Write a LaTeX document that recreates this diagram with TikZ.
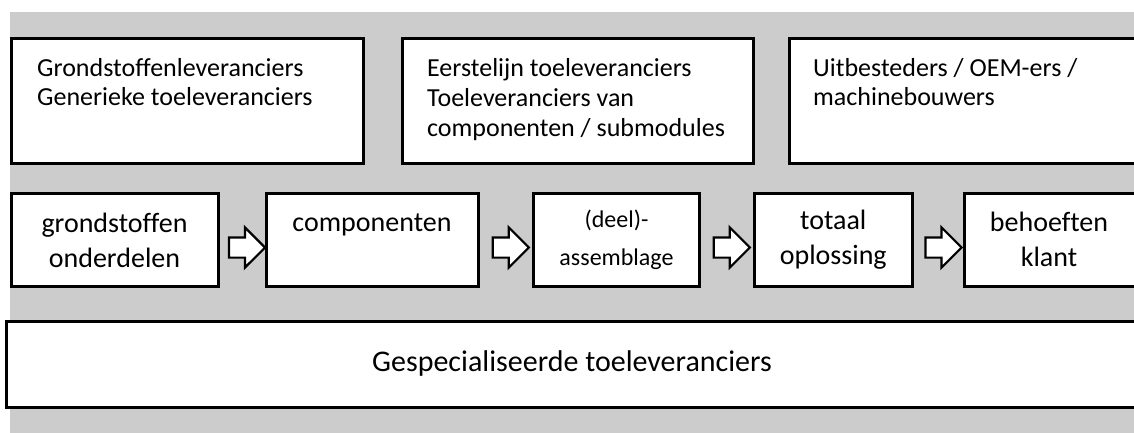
\documentclass[tikz,border=0pt]{standalone}
\usepackage{fontspec}
\setmainfont[Ligatures=NoCommon]{Carlito}
\usetikzlibrary{shapes.arrows,calc}
\definecolor{bandgray}{HTML}{CCCCCC}
\tikzset{
  tierbox/.style={draw=black, line width=3pt, fill=white, anchor=north west,
    inner sep=0pt, minimum height=124},
  tiertext/.style={anchor=base west, align=left, inner sep=0pt,
    font=\fontsize{26}{29.5}\selectfont},
  stagebox/.style={draw=black, line width=3pt, fill=white, anchor=north west,
    inner sep=0pt, minimum height=93, align=center,
    font=\fontsize{28}{35}\selectfont},
  flowarrow/.style={single arrow, draw=black, line width=2.2pt, fill=white,
    inner xsep=0pt, inner ysep=9pt, minimum height=36,
    single arrow head extend=10},
}

\begin{document}
\begin{tikzpicture}[x=1pt, y=-1pt]
  \useasboundingbox (0,0) rectangle (1134,433);
  \clip (0,0) rectangle (1134,433);
  \fill[bandgray] (10,12) rectangle (1134,433);

  % leveranciers (base = laatste regel)
  \node[tierbox, minimum width=352] (tier1) at (9.5,37.5) {};
  \node[tierbox, minimum width=351] (tier2) at (400.5,37.5) {};
  \node[tierbox, minimum width=363] (tier3) at (787.5,37.5) {};
  \node[tiertext] (tier1txt) at (37,106) {Grondstoffenleveranciers\\Generieke toeleveranciers};
  \node[tiertext] (tier2txt) at (427,136) {Eerstelijn toeleveranciers\\Toeleveranciers van\\componenten / submodules};
  \node[tiertext] (tier3txt) at (813,106) {Uitbesteders / OEM-ers /\\machinebouwers};

  % keten
  \node[stagebox, minimum width=207] (stage1) at (9.5,192) {grondstoffen\\onderdelen};
  \node[stagebox, minimum width=212] (stage2) at (264.5,192) {componenten\\\mbox{}};
  \node[stagebox, minimum width=166, font=\fontsize{24}{38}\selectfont] (stage3) at (532,192) {(deel)-\\assemblage};
  \node[stagebox, minimum width=158.5] (stage4) at (752.5,192) {totaal\\oplossing};
  \node[stagebox, minimum width=187] (stage5) at (963,192) {};
  \node[font=\fontsize{28}{35}\selectfont, align=center] (stage5txt) at (1049,239) {behoeften\\klant};

  \foreach \a/\b [count=\i] in {stage1/stage2, stage2/stage3, stage3/stage4, stage4/stage5}
    \node[flowarrow] (arrow\i) at ($(\a.east)!0.5!(\b.west)+(0,7.5)$) {};

  % bodem
  \node[draw=black, line width=3pt, fill=white, anchor=north west, inner sep=0pt,
    minimum width=1145, minimum height=86.5] (base) at (5,319.5) {};
  \node[font=\fontsize{30}{36}\selectfont, anchor=base] (basetxt) at (572,371) {Gespecialiseerde toeleveranciers};
\end{tikzpicture}
\end{document}
